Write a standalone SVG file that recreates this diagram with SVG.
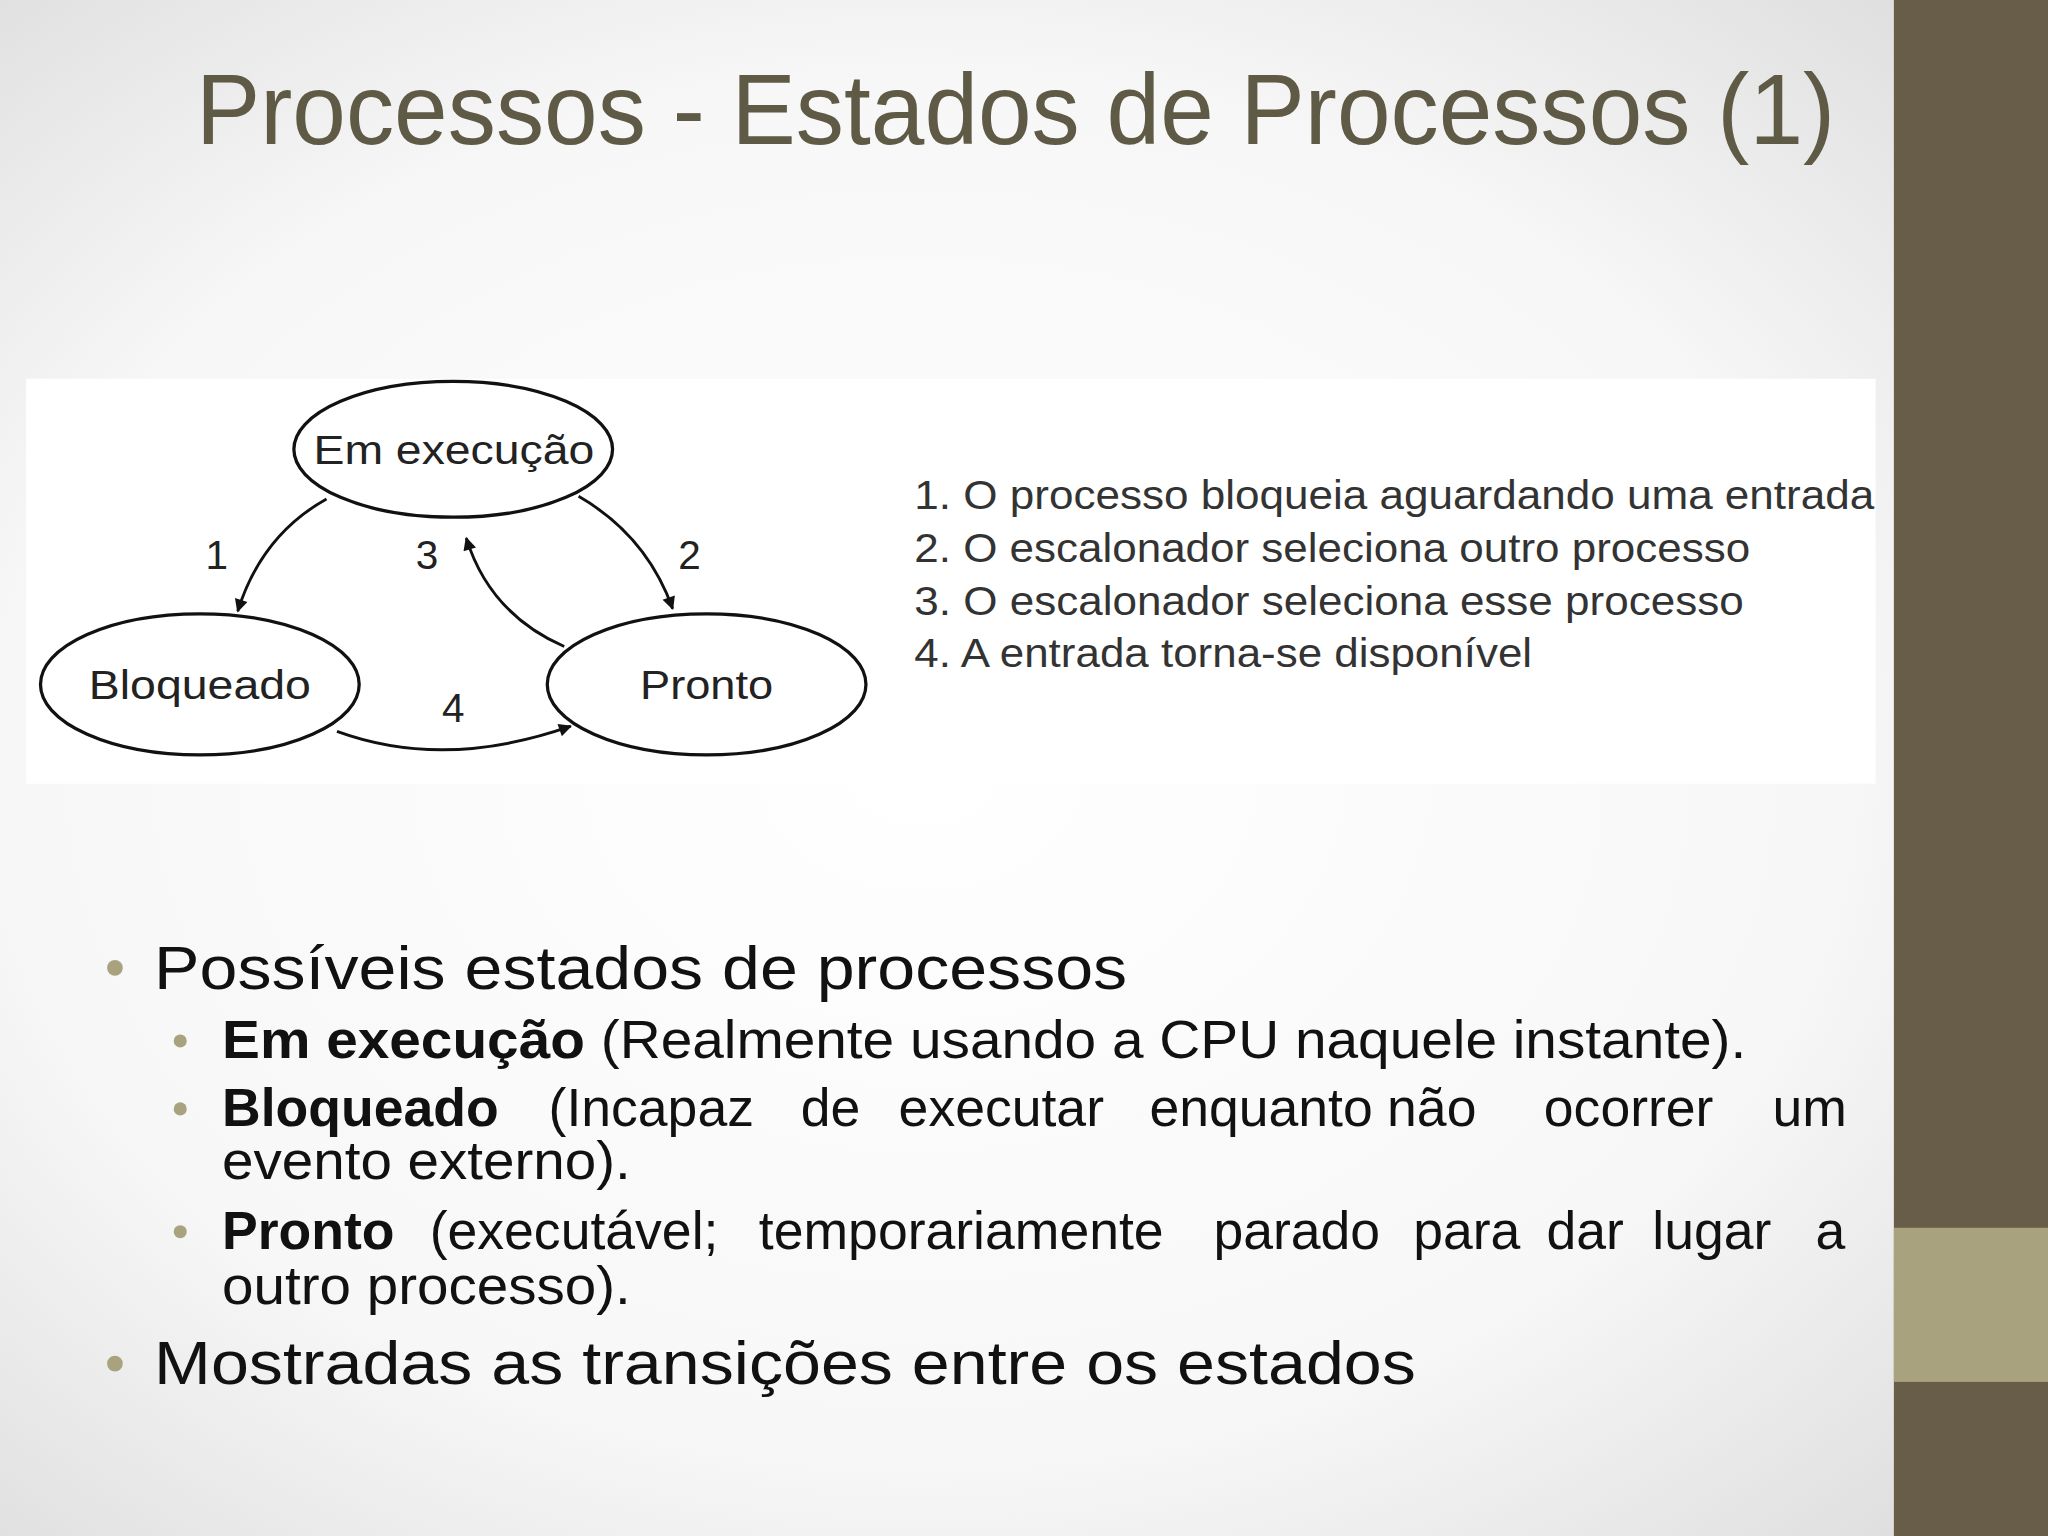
<svg xmlns="http://www.w3.org/2000/svg" width="2048" height="1536" viewBox="0 0 2048 1536">
<defs>
<radialGradient id="bg" cx="0.45" cy="0.5" r="0.75"><stop offset="0" stop-color="#ffffff"/><stop offset="0.6" stop-color="#f7f7f7"/><stop offset="1" stop-color="#d9d9d9"/></radialGradient>
<marker id="ah" viewBox="0 0 10 10" refX="9" refY="5" markerWidth="14" markerHeight="10" orient="auto" markerUnits="userSpaceOnUse"><path d="M0,0 L10,5 L0,10 z" fill="#111"/></marker>
<style>
.st{fill:none;stroke:#111;stroke-width:2.5}
.lb{font-family:"Liberation Sans",Arial,sans-serif;font-size:31px;fill:#222}
.ls{font-family:"Liberation Sans",Arial,sans-serif;font-size:31px;fill:#333}
.b1{font-family:"Liberation Sans",Arial,sans-serif;font-size:47px;fill:#111}
.b2{font-family:"Liberation Sans",Arial,sans-serif;font-size:41px;fill:#111}
.bb{font-weight:bold}
.dot{fill:#a9a27f}
.cn{fill:none;stroke:#111;stroke-width:2.2}
</style>
</defs>
<g transform="scale(1.306122)">
<rect width="1568" height="1176" fill="url(#bg)"/>
<rect x="1450" y="0" width="118" height="1176" fill="#685d48"/>
<rect x="1450" y="940" width="118" height="118" fill="#a9a27f"/>
<text x="1505" y="490" transform="rotate(-90 1505 490)" text-anchor="middle" font-family="Liberation Sans,Arial,sans-serif" font-size="22" fill="#685d48" dominant-baseline="central">10</text>
<text x="150" y="110" font-family="Liberation Sans,Arial,sans-serif" font-size="76" fill="#5f5a45" textLength="1255" lengthAdjust="spacingAndGlyphs">Processos - Estados de Processos (1)</text>
<rect x="20" y="290" width="1416" height="310" fill="#ffffff"/>
<g id="em"><ellipse class="st" cx="347" cy="344" rx="122" ry="52"/><text class="lb" x="240" y="355" textLength="215" lengthAdjust="spacingAndGlyphs">Em execução</text></g>
<g id="bloq"><ellipse class="st" cx="153" cy="524" rx="122" ry="54"/><text class="lb" x="68" y="535" textLength="170" lengthAdjust="spacingAndGlyphs">Bloqueado</text></g>
<g id="pronto"><ellipse class="st" cx="541" cy="524" rx="122" ry="54"/><text class="lb" x="490" y="535" textLength="102" lengthAdjust="spacingAndGlyphs">Pronto</text></g>
<g id="connectors">
<path class="cn" d="M250,382 Q200,410 182,468" marker-end="url(#ah)"/>
<path class="cn" d="M443,380 Q495,410 515,466" marker-end="url(#ah)"/>
<path class="cn" d="M432,495 Q375,470 357,412" marker-end="url(#ah)"/>
<path class="cn" d="M258,560 Q340,590 437,556" marker-end="url(#ah)"/>
<text class="lb" x="166" y="436" text-anchor="middle">1</text>
<text class="lb" x="327" y="436" text-anchor="middle">3</text>
<text class="lb" x="528" y="436" text-anchor="middle">2</text>
<text class="lb" x="347" y="553" text-anchor="middle">4</text>
</g>
<g id="legend">
<text class="ls" x="700" y="390" textLength="735" lengthAdjust="spacingAndGlyphs">1. O processo bloqueia aguardando uma entrada</text>
<text class="ls" x="700" y="430" textLength="640" lengthAdjust="spacingAndGlyphs">2. O escalonador seleciona outro processo</text>
<text class="ls" x="700" y="471" textLength="635" lengthAdjust="spacingAndGlyphs">3. O escalonador seleciona esse processo</text>
<text class="ls" x="700" y="511" textLength="473" lengthAdjust="spacingAndGlyphs">4. A entrada torna-se disponível</text>
</g>
<g id="bullets">
<circle class="dot" cx="88" cy="741" r="6"/>
<text class="b1" x="118" y="757" textLength="745" lengthAdjust="spacingAndGlyphs">Possíveis estados de processos</text>
<circle class="dot" cx="138" cy="797" r="5"/>
<text class="b2" x="170" y="810" textLength="1167" lengthAdjust="spacingAndGlyphs"><tspan class="bb">Em execução</tspan> (Realmente usando a CPU naquele instante).</text>
<circle class="dot" cx="138" cy="849" r="5"/>
<text class="b2" y="862"><tspan class="bb" x="170">Bloqueado</tspan><tspan x="420">(Incapaz</tspan><tspan x="613">de</tspan><tspan x="688">executar</tspan><tspan x="880">enquanto</tspan><tspan x="1062">não</tspan><tspan x="1182">ocorrer</tspan><tspan x="1357">um</tspan></text>
<text class="b2" x="170" y="903" textLength="313" lengthAdjust="spacingAndGlyphs">evento externo).</text>
<circle class="dot" cx="138" cy="943" r="5"/>
<text class="b2" y="956"><tspan class="bb" x="170">Pronto</tspan><tspan x="329">(executável;</tspan><tspan x="581">temporariamente</tspan><tspan x="929">parado</tspan><tspan x="1082">para</tspan><tspan x="1184">dar</tspan><tspan x="1265">lugar</tspan><tspan x="1390">a</tspan></text>
<text class="b2" x="170" y="998" textLength="313" lengthAdjust="spacingAndGlyphs">outro processo).</text>
<circle class="dot" cx="88" cy="1044" r="6"/>
<text class="b1" x="118" y="1060" textLength="966" lengthAdjust="spacingAndGlyphs">Mostradas as transições entre os estados</text>
</g>
</g>
</svg>
